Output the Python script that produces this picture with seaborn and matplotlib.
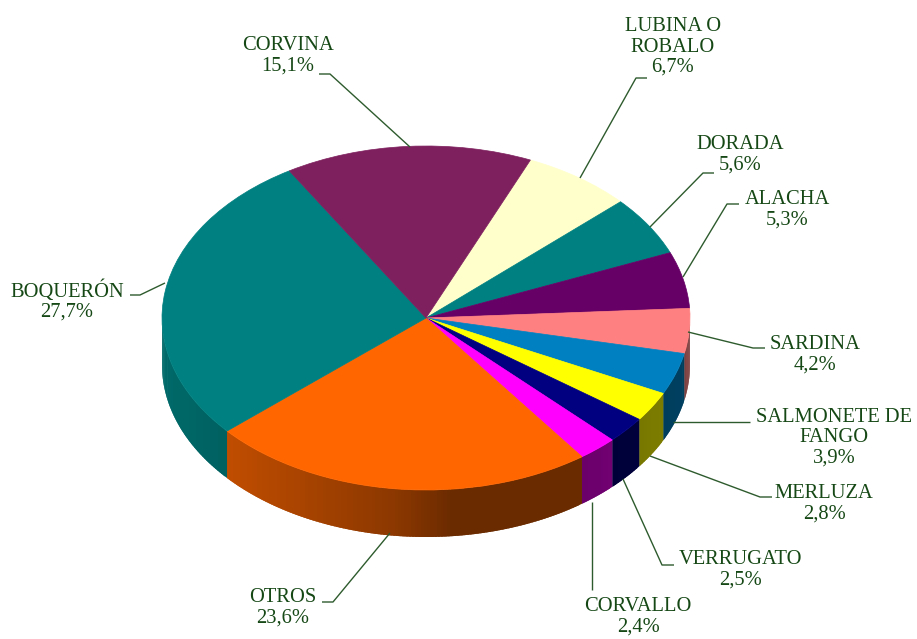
import numpy as np
import matplotlib
matplotlib.use("Agg")
import matplotlib.pyplot as plt
import seaborn as sns
from matplotlib.colors import to_rgb

# ---------------- data ----------------
categories = ["LUBINA O\nROBALO", "DORADA", "ALACHA", "SARDINA",
              "SALMONETE DE\nFANGO", "MERLUZA", "VERRUGATO", "CORVALLO",
              "OTROS", "BOQUERÓN", "CORVINA"]
shares = [6.7, 5.6, 5.3, 4.2, 3.9, 2.8, 2.5, 2.4, 23.6, 27.7, 15.1]
colors = ["#FFFFCC", "#008080", "#660066", "#FF8080", "#0080C0", "#FFFF00",
          "#000080", "#FF00FF", "#FF6600", "#008080", "#7E205E"]

# ---------------- layout (pixels) ----------------
W, H = 917, 639
CX, CY, RX, RY, DEPTH = 426, 318, 264, 172, 47
START_CW = 23.3  # first slice starts this many degrees clockwise from 12 o'clock

label_pos = [(673, 47), (740, 155), (787, 210), (815, 355), (834, 438),
             (824, 504), (741, 570), (638, 617), (283, 608), (67, 301),
             (288, 56)]
leaders = [
    [(647, 78), (636, 78), (580, 178)],
    [(714, 173), (703, 173), (650, 227)],
    [(739, 204), (727, 204), (683, 277)],
    [(765, 348), (753, 348), (688, 332)],
    [(750, 422), (673, 422)],
    [(772, 497), (760, 497), (650, 456)],
    [(674, 565), (662, 565), (623, 479)],
    [(592, 590), (592, 502)],
    [(322, 602), (333, 602), (390, 533)],
    [(130, 295), (140, 295), (165, 283)],
    [(319, 74), (330, 74), (410, 147)],
]
# side-wall lighting (horizontal position -> brightness factor)
shade_s = [-1.0, -0.74, -0.1, 0.1, 0.6, 0.85, 1.0]
shade_f = [0.82, 0.75, 0.54, 0.42, 0.42, 0.48, 0.50]

sns.set_theme(style="white")
plt.rcParams["font.family"] = ["Liberation Serif", "DejaVu Serif"]

fig = plt.figure(figsize=(W / 100, H / 100), dpi=100)
ax = fig.add_axes([0, 0, 1, 1])


def P(px, py):
    return (px - CX) / RX, (CY - py) / RY


d = DEPTH / RY

# side walls (drawn from the data angles)
total = sum(shares)
edges = START_CW + np.concatenate([[0], np.cumsum(shares)]) / total * 360.0
for i, c in enumerate(colors):
    lo, hi = max(edges[i], 90.0), min(edges[i + 1], 270.0)
    if lo >= hi:
        continue
    base = np.array(to_rgb(c))
    n = max(2, int((hi - lo) / 0.7) + 1)
    tdeg = np.linspace(lo, hi, n)
    step = tdeg[1] - tdeg[0]
    for k in range(n - 1):
        t0 = np.radians(tdeg[k])
        t1 = np.radians(min(tdeg[k + 1] + step * 0.9, hi))
        s = np.sin(np.radians(tdeg[k] + step / 2))
        f = np.interp(s, shade_s, shade_f)
        col = np.clip(base * f, 0, 1)
        tt = np.linspace(t0, t1, 4)
        xs = np.concatenate([np.sin(tt), np.sin(tt[::-1])])
        ys = np.concatenate([np.cos(tt), np.cos(tt[::-1]) - d])
        ax.fill(xs, ys, color=col, linewidth=0, zorder=2)

# top face
wedges, _ = ax.pie(shares, colors=colors, startangle=90 - START_CW,
                   counterclock=False, radius=1, center=(0, 0))
for w in wedges:
    w.set_edgecolor(w.get_facecolor())
    w.set_linewidth(0.5)
    w.set_zorder(3)

ax.set_aspect("auto")
x0, _ = P(0, 0)
x1, _ = P(W, 0)
_, y0 = P(0, H)
_, y1 = P(0, 0)
ax.set_xlim(x0, x1)
ax.set_ylim(y0, y1)
ax.axis("off")

txt_col = "#164816"
line_col = "#2E5B2E"
for cat, val, (lx, ly), pts in zip(categories, shares, label_pos, leaders):
    label = f"{cat}\n{val:.1f}%".replace(".", ",")
    X, Y = P(lx, ly)
    ax.text(X, Y, label, ha="center", va="center", fontsize=14.8,
            color=txt_col, linespacing=1.08, zorder=5)
    xy = [P(*p) for p in pts]
    ax.plot([p[0] for p in xy], [p[1] for p in xy], color=line_col,
            linewidth=1.0, zorder=4, solid_capstyle="butt")

fig.savefig("out.png", dpi=100, facecolor="white")
